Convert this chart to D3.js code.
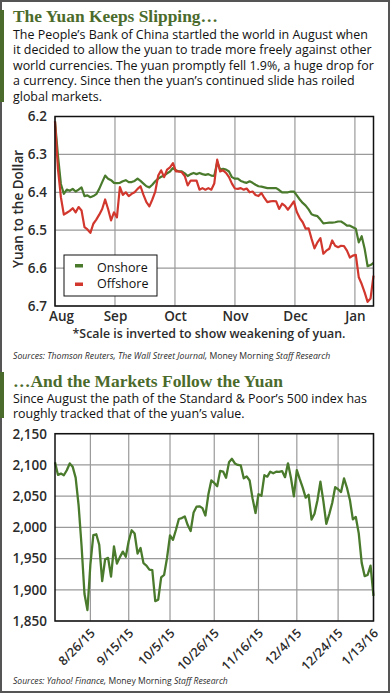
<!DOCTYPE html>
<html><head><meta charset="utf-8">
<script src="https://cdn.jsdelivr.net/npm/d3@7"></script>
<style>body{margin:0;background:#fff}svg{display:block}</style>
</head><body><svg id="c" width="390" height="693"></svg>
<script>
// ---------- DATA ----------
const monthLabels = ["Aug","Sep","Oct","Nov","Dec","Jan"];
const yuanTicks = [6.2,6.3,6.4,6.5,6.6,6.7];
const seriesNames = ["Onshore","Offshore"];
const onshore = [6.213,6.303,6.378,6.404,6.393,6.396,6.391,6.398,6.393,6.387,
 6.410,6.408,6.413,6.410,6.405,6.391,6.373,6.356,6.364,6.368,
 6.375,6.376,6.375,6.371,6.368,6.373,6.373,6.370,6.364,6.370,
 6.377,6.384,6.387,6.380,6.371,6.364,6.359,6.356,6.350,6.345,
 6.336,6.342,6.345,6.345,6.350,6.357,6.352,6.349,6.352,6.349,
 6.352,6.354,6.352,6.356,6.357,6.320,6.340,6.338,6.340,6.345,
 6.360,6.364,6.364,6.370,6.373,6.375,6.371,6.375,6.380,6.384,
 6.385,6.387,6.389,6.389,6.389,6.389,6.394,6.400,6.400,6.400,
 6.398,6.398,6.408,6.419,6.428,6.435,6.445,6.458,6.461,6.463,
 6.472,6.482,6.481,6.480,6.480,6.479,6.477,6.477,6.482,6.488,
 6.488,6.492,6.496,6.532,6.516,6.549,6.595,6.592,6.586];
const offshore = [6.213,6.338,6.413,6.459,6.454,6.449,6.442,6.453,6.439,6.448,
 6.492,6.498,6.507,6.483,6.472,6.459,6.444,6.419,6.444,6.474,
 6.453,6.466,6.386,6.407,6.400,6.410,6.404,6.400,6.391,6.384,
 6.407,6.426,6.437,6.419,6.398,6.356,6.342,6.360,6.340,6.334,
 6.323,6.345,6.345,6.347,6.357,6.382,6.369,6.369,6.369,6.393,
 6.389,6.393,6.389,6.393,6.377,6.314,6.345,6.342,6.349,6.360,
 6.377,6.390,6.391,6.389,6.393,6.390,6.400,6.398,6.407,6.410,
 6.402,6.415,6.426,6.424,6.423,6.424,6.444,6.430,6.436,6.446,
 6.435,6.424,6.452,6.468,6.479,6.496,6.495,6.523,6.548,6.532,
 6.521,6.562,6.554,6.549,6.527,6.541,6.545,6.541,6.542,6.554,
 6.572,6.567,6.565,6.624,6.642,6.664,6.689,6.680,6.620];

const spDates = ["8/10/15","8/11/15","8/12/15","8/13/15","8/14/15","8/17/15","8/18/15","8/19/15","8/20/15","8/21/15","8/24/15","8/25/15","8/26/15","8/27/15","8/28/15","8/31/15",
 "9/1/15","9/2/15","9/3/15","9/4/15","9/8/15","9/9/15","9/10/15","9/11/15","9/14/15","9/15/15","9/16/15","9/17/15","9/18/15","9/21/15","9/22/15","9/23/15","9/24/15","9/25/15","9/28/15","9/29/15","9/30/15",
 "10/1/15","10/2/15","10/5/15","10/6/15","10/7/15","10/8/15","10/9/15","10/12/15","10/13/15","10/14/15","10/15/15","10/16/15","10/19/15","10/20/15","10/21/15","10/22/15","10/23/15","10/26/15","10/27/15","10/28/15","10/29/15","10/30/15",
 "11/2/15","11/3/15","11/4/15","11/5/15","11/6/15","11/9/15","11/10/15","11/11/15","11/12/15","11/13/15","11/16/15","11/17/15","11/18/15","11/19/15","11/20/15","11/23/15","11/24/15","11/25/15","11/27/15","11/30/15",
 "12/1/15","12/2/15","12/3/15","12/4/15","12/7/15","12/8/15","12/9/15","12/10/15","12/11/15","12/14/15","12/15/15","12/16/15","12/17/15","12/18/15","12/21/15","12/22/15","12/23/15","12/24/15","12/28/15","12/29/15","12/30/15","12/31/15",
 "1/4/16","1/5/16","1/6/16","1/7/16","1/8/16","1/11/16","1/12/16","1/13/16"];
const spValues = [2104.2,2084.1,2086.1,2083.4,2091.5,2102.4,2096.9,2079.6,2035.7,1970.9,1893.2,1867.6,1940.5,1987.7,1988.9,1972.2,
 1913.9,1948.9,1951.1,1921.2,1969.4,1942.0,1952.3,1961.1,1953.0,1978.1,1995.3,1990.2,1958.0,1967.0,1942.7,1938.8,1932.2,1931.3,1881.8,1884.1,1920.0,
 1923.8,1951.4,1987.1,1979.9,1995.8,2013.4,2014.9,2017.5,2003.7,1994.2,2023.9,2033.1,2033.7,2030.8,2018.9,2052.5,2075.2,2071.2,2065.9,2090.4,2089.4,2079.4,
 2104.1,2109.8,2102.3,2099.9,2099.2,2078.6,2081.7,2075.0,2046.0,2023.0,2053.2,2050.4,2083.6,2081.2,2089.2,2086.6,2089.1,2088.9,2090.1,2080.4,
 2102.6,2079.5,2049.6,2091.7,2077.1,2063.6,2047.6,2052.2,2012.4,2021.9,2043.4,2073.1,2041.9,2005.6,2021.2,2039.0,2064.3,2061.0,2056.5,2078.4,2063.4,2043.9,
 2012.7,2016.7,1990.3,1943.1,1922.0,1923.7,1938.7,1890.3];
const spTickLabels = ["8/26/15","9/15/15","10/5/15","10/26/15","11/16/15","12/4/15","12/24/15","1/13/16"];
const spYTicks = [1850,1900,1950,2000,2050,2100,2150];

// ---------- STYLE ----------
const F = "'Open Sans', 'DejaVu Sans', sans-serif";
const SERIF = "'Liberation Serif', 'DejaVu Serif', serif";
const TITLE_GREEN = "#4b6b2c", LINE_GREEN = "#4a7a2c", RED = "#d2372e", GRID = "#9a9a9a", TXT = "#2b2b2b";
const svg = d3.select("#c");

function fit(sel, w){ const cur = sel.node().getComputedTextLength(); const fs = parseFloat(sel.attr("font-size")); const nfs = fs*w/cur; sel.attr("font-size", nfs); return nfs; }

// frame
svg.append("rect").attr("x",1).attr("y",1).attr("width",388).attr("height",691).attr("fill","none").attr("stroke","#555").attr("stroke-width",2);
svg.append("rect").attr("x",0).attr("y",10).attr("width",4).attr("height",92).attr("fill",TITLE_GREEN);
svg.append("rect").attr("x",0).attr("y",372).attr("width",4).attr("height",46).attr("fill",TITLE_GREEN);

// ---------- HEADER 1 ----------
const t1 = svg.append("text").attr("x",13).attr("y",22).attr("font-family",SERIF).attr("font-weight","bold").attr("font-size",18).attr("fill",TITLE_GREEN).text("The Yuan Keeps Slipping…");
fit(t1,205);
const body1 = ["The People’s Bank of China startled the world in August when","it decided to allow the yuan to trade more freely against other","world currencies. The yuan promptly fell 1.9%, a huge drop for","a currency. Since then the yuan’s continued slide has roiled","global markets."];
const b1 = svg.append("g").attr("font-family",F).attr("fill","#111").attr("font-size",13);
const b1l = body1.map((s,i)=>b1.append("text").attr("x",13).attr("y",38.5+i*15.5).attr("font-size",13).text(s));
const bfs = fit(b1l[0],355); b1l.forEach(t=>t.attr("font-size",bfs));

// ---------- CHART 1 ----------
const L=55,R=373.5,T1=116.5,B1=306;
const x1 = d3.scaleLinear().domain([0,onshore.length-1]).range([L,R]);
const xm = d3.scaleLinear().domain([0,5.31]).range([L,R]);
const y1 = d3.scaleLinear().domain([6.2,6.7]).range([T1,B1]);
const g1 = svg.append("g");
g1.append("g").selectAll("line").data(yuanTicks).join("line").attr("x1",L).attr("x2",R).attr("y1",d=>y1(d)).attr("y2",d=>y1(d)).attr("stroke",GRID).attr("stroke-width",1.2);
g1.append("g").selectAll("line").data(monthLabels).join("line").attr("x1",(d,i)=>xm(i)).attr("x2",(d,i)=>xm(i)).attr("y1",T1).attr("y2",B1).attr("stroke",GRID).attr("stroke-width",1.2);
const line1 = d3.line().x((d,i)=>x1(i)).y(d=>y1(d));
g1.append("path").datum(onshore).attr("d",line1).attr("fill","none").attr("stroke",LINE_GREEN).attr("stroke-width",2.2).attr("stroke-linejoin","round");
g1.append("path").datum(offshore).attr("d",line1).attr("fill","none").attr("stroke",RED).attr("stroke-width",2.2).attr("stroke-linejoin","round");
g1.append("rect").attr("x",L).attr("y",T1).attr("width",R-L).attr("height",B1-T1).attr("fill","none").attr("stroke","#111").attr("stroke-width",1.5);
// axes
const ya1 = g1.append("g").attr("transform",`translate(${L},0)`).call(d3.axisLeft(y1).tickValues(yuanTicks).tickFormat(d3.format(".1f")).tickSize(0).tickPadding(8));
ya1.select(".domain").remove();
ya1.selectAll("text").attr("font-family",F).attr("font-size",13.5).attr("font-weight",600).attr("fill",TXT);
const xa1 = g1.append("g").attr("transform",`translate(0,${B1})`).call(d3.axisBottom(xm).tickValues(d3.range(monthLabels.length)).tickFormat(i=>monthLabels[i]).tickSize(0).tickPadding(5));
xa1.select(".domain").remove();
xa1.selectAll("text").attr("font-family",F).attr("font-size",13.5).attr("font-weight",600).attr("fill",TXT).attr("dx",(d,i)=>i===0?6:0);
svg.append("text").attr("transform","translate(23,209) rotate(-90)").attr("text-anchor","middle").attr("font-family",F).attr("font-size",13.5).attr("font-weight",600).attr("fill",TXT).text("Yuan to the Dollar");
// legend
const lg = g1.append("g");
lg.append("rect").attr("x",64).attr("y",255).attr("width",93).attr("height",41).attr("fill","#fff").attr("stroke","#111").attr("stroke-width",1);
[LINE_GREEN,RED].forEach((c,i)=>{
  lg.append("rect").attr("x",75).attr("y",264+i*18.5).attr("width",8).attr("height",3.5).attr("fill",c);
  lg.append("text").attr("x",97).attr("y",271.5+i*16.5).attr("font-family",F).attr("font-size",12.5).attr("fill","#111").text(seriesNames[i]);
});
const note = svg.append("text").attr("x",209).attr("y",338).attr("text-anchor","middle").attr("font-family",F).attr("font-size",13.5).attr("font-weight",600).attr("fill",TXT).text("*Scale is inverted to show weakening of yuan.");
fit(note,273);
const s1 = svg.append("text").attr("x",13).attr("y",359).attr("font-family",F).attr("font-size",8.5).attr("fill",TXT);
s1.append("tspan").attr("font-style","italic").text("Sources: Thomson Reuters, The Wall Street Journal, ");
s1.append("tspan").text("Money Morning ");
s1.append("tspan").attr("font-style","italic").text("Staff Research");
fit(s1,318);

// ---------- HEADER 2 ----------
const t2 = svg.append("text").attr("x",13).attr("y",387).attr("font-family",SERIF).attr("font-weight","bold").attr("font-size",18).attr("fill",TITLE_GREEN).text("…And the Markets Follow the Yuan");
fit(t2,270);
const body2 = ["Since August the path of the Standard & Poor’s 500 index has","roughly tracked that of the yuan’s value."];
body2.forEach((s,i)=>svg.append("text").attr("x",13).attr("y",402.5+i*15.5).attr("font-family",F).attr("font-size",bfs).attr("fill","#111").text(s));

// ---------- CHART 2 ----------
const T2=433.7,B2=621;
const x2 = d3.scaleLinear().domain([0,spValues.length-1]).range([L,R]);
const y2 = d3.scaleLinear().domain([1850,2150]).range([B2,T2]);
const tickIdx = spTickLabels.map(l=>spDates.indexOf(l));
const g2 = svg.append("g");
g2.append("g").selectAll("line").data(spYTicks).join("line").attr("x1",L).attr("x2",R).attr("y1",d=>y2(d)).attr("y2",d=>y2(d)).attr("stroke",GRID).attr("stroke-width",1.2);
g2.append("g").selectAll("line").data(tickIdx).join("line").attr("x1",d=>x2(d)).attr("x2",d=>x2(d)).attr("y1",T2).attr("y2",B2).attr("stroke",GRID).attr("stroke-width",1.2);
g2.append("path").datum(spValues).attr("d",d3.line().x((d,i)=>x2(i)).y(d=>y2(d))).attr("fill","none").attr("stroke",LINE_GREEN).attr("stroke-width",2.3).attr("stroke-linejoin","round");
g2.append("rect").attr("x",L).attr("y",T2).attr("width",R-L).attr("height",B2-T2).attr("fill","none").attr("stroke","#111").attr("stroke-width",1.5);
const ya2 = g2.append("g").attr("transform",`translate(${L},0)`).call(d3.axisLeft(y2).tickValues(spYTicks).tickFormat(d3.format(",")).tickSize(0).tickPadding(8));
ya2.select(".domain").remove();
ya2.selectAll("text").attr("font-family",F).attr("font-size",13.5).attr("font-weight",600).attr("fill",TXT);
const xa2 = g2.append("g").attr("transform",`translate(0,${B2})`).call(d3.axisBottom(x2).tickValues(tickIdx).tickFormat(i=>spDates[i]).tickSize(0).tickPadding(0));
xa2.select(".domain").remove();
xa2.selectAll("text").attr("font-family",F).attr("font-size",12.5).attr("font-weight",600).attr("fill",TXT)
  .attr("text-anchor","end").attr("dy",0).attr("y",0).attr("transform","translate(5,13) rotate(-45)");
const s2 = svg.append("text").attr("x",13).attr("y",684).attr("font-family",F).attr("font-size",8.5).attr("fill",TXT);
s2.append("tspan").attr("font-style","italic").text("Sources: Yahoo! Finance, ");
s2.append("tspan").text("Money Morning ");
s2.append("tspan").attr("font-style","italic").text("Staff Research");
fit(s2,215);
</script></body></html>
